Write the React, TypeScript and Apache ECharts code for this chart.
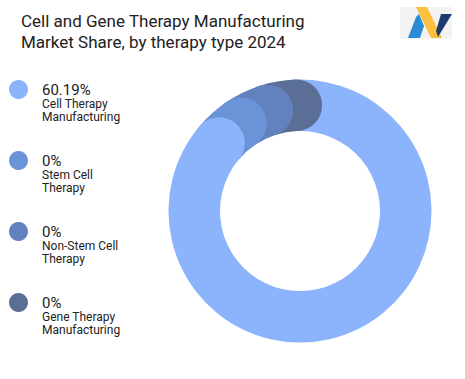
import React, { useEffect, useRef } from "react";
import * as echarts from "echarts";

const categories = [
  "Cell Therapy Manufacturing",
  "Stem Cell Therapy",
  "Non-Stem Cell Therapy",
  "Gene Therapy Manufacturing",
];
const categoryLines = [
  ["Cell Therapy", "Manufacturing"],
  ["Stem Cell", "Therapy"],
  ["Non-Stem Cell", "Therapy"],
  ["Gene Therapy", "Manufacturing"],
];
const shareValues = [60.19, 0, 0, 0];
const shareLabels = ["60.19%", "0%", "0%", "0%"];
const colors = ["#8cb4fc", "#6a93d8", "#6281bf", "#5b6f96"];

const MIN_ANGLE = 16;

function computeArcs(values: number[]) {
  const sum = values.reduce((a, b) => a + b, 0) || 1;
  const small = values.map((v) => (v / sum) * 360 < MIN_ANGLE);
  const smallCount = small.filter(Boolean).length;
  const bigSum = values.reduce((a, v, i) => (small[i] ? a : a + v), 0) || 1;
  const rest = 360 - smallCount * MIN_ANGLE;
  let acc = 0;
  return values.map((v, i) => {
    const ang = small[i] ? MIN_ANGLE : (v / bigSum) * rest;
    const start = acc;
    acc += ang;
    return [0.5, start, acc];
  });
}

export default function App() {
  const ref = useRef<HTMLDivElement>(null);
  useEffect(() => {
    document.body.style.margin = "0";
    const chart = echarts.init(ref.current!, null, { renderer: "svg" });
    const arcs = computeArcs(shareValues);
    const n = categories.length;
    const series = categories.map((name, i) => ({
      type: "custom",
      name,
      coordinateSystem: "polar",
      itemStyle: { color: colors[i] },
      data: [arcs[i]],
      renderItem: (params: any, api: any) => {
        const cs = params.coordSys;
        const cx = cs.cx, cy = cs.cy, r = cs.r, r0 = cs.r0;
        const s = api.value(1);
        const e = api.value(2);
        const ps = api.coord([api.value(0), s]);
        const pe = api.coord([api.value(0), e]);
        const sA = Math.atan2(ps[1] - cy, ps[0] - cx);
        let eA = Math.atan2(pe[1] - cy, pe[0] - cx);
        while (eA <= sA) eA += Math.PI * 2;
        return {
          type: "group",
          children: [
            {
              type: "sector",
              shape: { cx, cy, r0, r, startAngle: sA, endAngle: eA, clockwise: true },
              style: { fill: colors[i] },
              z2: 1,
            },
            {
              type: "circle",
              shape: { cx: pe[0], cy: pe[1], r: (r - r0) / 2 },
              style: { fill: colors[i] },
              z2: 10 + (n - i),
            },
          ],
        };
      },
    }));

    chart.setOption({
      animation: false,
      textStyle: { fontFamily: "Roboto" },
      title: {
        text: "Cell and Gene Therapy Manufacturing\nMarket Share, by therapy type 2024",
        left: 21,
        top: 10,
        padding: 0,
        textStyle: {
          fontFamily: "Roboto",
          fontSize: 17,
          fontWeight: "normal",
          lineHeight: 21,
          color: "#222222",
        },
      },
      legend: {
        orient: "vertical",
        left: 9,
        top: 68,
        padding: 0,
        itemGap: 16,
        itemWidth: 19,
        itemHeight: 19,
        icon: "circle",
        selectedMode: false,
        data: categories,
        formatter: (name: string) => {
          const i = categories.indexOf(name);
          return [
            `{s| }`,
            `{v|${shareLabels[i]}}`,
            ...categoryLines[i].map((l) => `{n|${l}}`),
          ].join("\n");
        },
        textStyle: {
          color: "#222222",
          rich: {
            s: { fontSize: 1, lineHeight: 26, padding: [0, 0, 0, 9] },
            v: { fontFamily: "Roboto", fontSize: 15, lineHeight: 16, color: "#222222", padding: [0, 0, 0, 9] },
            n: { fontFamily: "Roboto", fontSize: 12, lineHeight: 13, color: "#222222", padding: [0, 0, 0, 9] },
          },
        },
      },
      polar: { center: [300, 211], radius: [80, 131.5] },
      angleAxis: {
        type: "value",
        min: 0,
        max: 360,
        startAngle: 92,
        clockwise: true,
        show: false,
      },
      radiusAxis: { type: "value", min: 0, max: 1, show: false },
      graphic: [
        {
          type: "group",
          children: [
            { type: "rect", shape: { x: 400, y: 7, width: 52, height: 32 }, style: { fill: "#f3f3f3" } },
            {
              type: "polygon",
              shape: { points: [[408, 38], [416, 17], [419, 14], [424, 26], [420, 38]] },
              style: { fill: "#2a8bd6" },
            },
            {
              type: "polygon",
              shape: { points: [[416, 7], [427, 7], [442, 38], [431, 38]] },
              style: { fill: "#fcbf3f" },
            },
            {
              type: "polygon",
              shape: { points: [[441, 14], [452, 14], [438, 37], [436, 31]] },
              style: { fill: "#1e3a70" },
            },
          ],
        },
      ],
      series,
    });
    return () => chart.dispose();
  }, []);
  return <div ref={ref} style={{ width: 465, height: 379 }} />;
}
